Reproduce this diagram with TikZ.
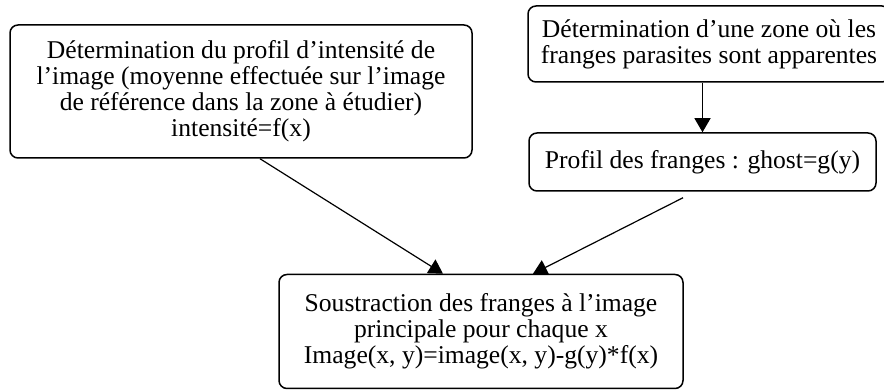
\documentclass[tikz,border=0pt]{standalone}
\usepackage{fontspec}
\setmainfont{Liberation Serif}
\usepackage{tikz}
\usetikzlibrary{
    positioning,
    calc,
    arrows.meta
}
\tikzset{
    >={Triangle[length=7pt,width=8pt]},
    etape/.style={
        draw,
        rounded corners=4pt,
        line width=0.75pt,
        align=center,
        inner sep=2pt,
        font=\fontsize{12.8}{13}\selectfont
    }
}

\begin{document}
\begin{tikzpicture}[
    x=0.5pt,
    y=0.5pt,
    line width=0.6pt
]

    \clip (0,0) rectangle (884,390);

    % Boites
    \node[etape, minimum width=231pt, minimum height=66.5pt] (intensite) at (241,298.5)
        {Détermination du profil d’intensité de\\
         l’image (moyenne effectuée sur l’image\\
         de référence dans la zone à étudier)\\
         intensité=f(x)};
    \node[etape, minimum width=181pt, minimum height=38pt] (zone) at (709,346)
        {Détermination d’une zone où les\\
         franges parasites sont apparentes};
    \node[etape, minimum width=173.5pt, minimum height=29pt] (profil) at (702.5,228)
        {Profil des franges : ghost=g(y)};
    \node[etape, minimum width=202pt, minimum height=57pt] (soustraction) at (481,58.5)
        {Soustraction des franges à l’image\\
         principale pour chaque x\\
         Image(x, y)=image(x, y)-g(y)*f(x)};

    % Fleches
    \draw[->] (zone.south -| profil.north) -- (profil.north);
    \draw[->] ($(intensite.south)+(19,0)$) -- ($(soustraction.north)+(-38,0)$);
    \draw[->] ($(profil.south)+(-19.5,-6)$) -- ($(soustraction.north)+(52,0)$);

\end{tikzpicture}
\end{document}
